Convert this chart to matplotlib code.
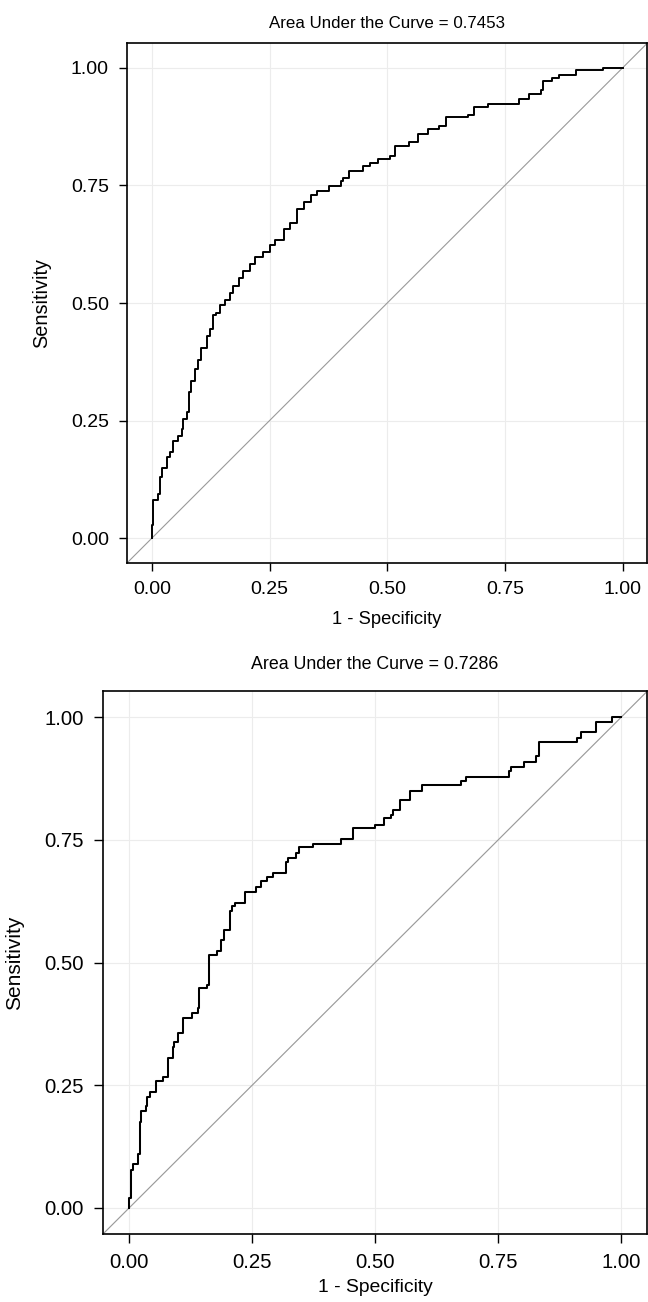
import numpy as np
import matplotlib
matplotlib.use("Agg")
import matplotlib.pyplot as plt

plt.rcParams['font.family'] = ['Liberation Sans', 'DejaVu Sans']

# ROC curve 1 (AUC = 0.7453): step corners, 1 - specificity vs sensitivity
fpr_1 = [0.0, 0.0, 0.002, 0.013, 0.017, 0.021, 0.031, 0.038, 0.045, 0.056,
         0.063, 0.066, 0.075, 0.079, 0.082, 0.091, 0.098, 0.105, 0.116, 0.123,
         0.130, 0.137, 0.145, 0.155, 0.166, 0.173, 0.184, 0.194, 0.209, 0.219,
         0.237, 0.251, 0.262, 0.280, 0.294, 0.308, 0.323, 0.337, 0.351, 0.376,
         0.401, 0.406, 0.419, 0.448, 0.463, 0.480, 0.505, 0.516, 0.547, 0.565,
         0.586, 0.611, 0.625, 0.671, 0.685, 0.714, 0.781, 0.802, 0.827, 0.832,
         0.851, 0.866, 0.901, 0.958, 1.0]
tpr_1 = [0.0, 0.027, 0.082, 0.093, 0.130, 0.150, 0.173, 0.184, 0.206, 0.217,
         0.232, 0.254, 0.269, 0.310, 0.335, 0.360, 0.378, 0.404, 0.430, 0.444,
         0.474, 0.478, 0.496, 0.507, 0.521, 0.536, 0.554, 0.569, 0.583, 0.598,
         0.609, 0.624, 0.635, 0.657, 0.671, 0.700, 0.715, 0.730, 0.739, 0.748,
         0.759, 0.766, 0.781, 0.792, 0.797, 0.806, 0.813, 0.833, 0.842, 0.860,
         0.870, 0.877, 0.895, 0.899, 0.917, 0.924, 0.934, 0.945, 0.952, 0.972,
         0.979, 0.986, 0.995, 1.0, 1.0]

# ROC curve 2 (AUC = 0.7286)
fpr_2 = [0.0, 0.0, 0.003, 0.008, 0.018, 0.022, 0.025, 0.034, 0.037, 0.042,
         0.054, 0.069, 0.080, 0.089, 0.091, 0.099, 0.110, 0.127, 0.139, 0.143,
         0.159, 0.162, 0.178, 0.187, 0.193, 0.204, 0.209, 0.215, 0.235, 0.258,
         0.268, 0.281, 0.293, 0.319, 0.323, 0.339, 0.345, 0.374, 0.431, 0.454,
         0.500, 0.517, 0.532, 0.537, 0.550, 0.571, 0.595, 0.674, 0.685, 0.771,
         0.775, 0.803, 0.826, 0.832, 0.910, 0.917, 0.949, 0.980, 1.0]
tpr_2 = [0.0, 0.020, 0.078, 0.089, 0.109, 0.176, 0.198, 0.208, 0.227, 0.237,
         0.258, 0.267, 0.306, 0.328, 0.339, 0.357, 0.386, 0.397, 0.408, 0.448,
         0.455, 0.516, 0.524, 0.545, 0.566, 0.604, 0.615, 0.622, 0.644, 0.653,
         0.666, 0.675, 0.683, 0.704, 0.713, 0.723, 0.735, 0.742, 0.752, 0.773,
         0.781, 0.794, 0.801, 0.811, 0.831, 0.849, 0.861, 0.870, 0.878, 0.891,
         0.899, 0.909, 0.920, 0.950, 0.958, 0.969, 0.989, 1.0, 1.0]

aucs = [0.7453, 0.7286]
ticks = [0.0, 0.25, 0.5, 0.75, 1.0]
tick_labels = ["0.00", "0.25", "0.50", "0.75", "1.00"]

fig = plt.figure(figsize=(6.48, 13.02), dpi=100)

# axes boxes in figure fractions (top panel, bottom panel)
boxes = [[127 / 648, 739 / 1302, 520 / 648, 520 / 1302],
         [103 / 648, 68 / 1302, 544 / 648, 543 / 1302]]
curves = [(fpr_1, tpr_1), (fpr_2, tpr_2)]
scales = [1.0, 1.05]
title_pads = [11, 16]
xlabel_pads = [9, 5]

for box, (fpr, tpr), auc, s, tp, xp in zip(boxes, curves, aucs, scales,
                                           title_pads, xlabel_pads):
    ax = fig.add_axes(box)
    ax.set_xlim(-0.053, 1.052)
    ax.set_ylim(-0.053, 1.053)

    # light grid
    for t in ticks:
        ax.axvline(t, color="#ececec", lw=0.8, zorder=0)
        ax.axhline(t, color="#ececec", lw=0.8, zorder=0)

    # reference diagonal and the ROC staircase
    ax.axline((0, 0), (1, 1), color="#9a9a9a", lw=0.8 * s, zorder=1)
    ax.step(fpr, tpr, where="post", color="black", lw=1.4 * s, zorder=2)

    ax.set_xticks(ticks)
    ax.set_yticks(ticks)
    ax.set_xticklabels(tick_labels)
    ax.set_yticklabels(tick_labels)
    ax.tick_params(direction="out", length=6 * s, width=1.0, pad=7 * s,
                   labelsize=14 * s)
    for sp in ax.spines.values():
        sp.set_linewidth(1.2)

    ax.set_title("Area Under the Curve = %.4f" % auc, fontsize=12.2 * s, pad=tp)
    ax.set_xlabel("1 - Specificity", fontsize=13.2 * s, labelpad=xp)
    ax.set_ylabel("Sensitivity", fontsize=14.3 * s, labelpad=14 * s)

fig.savefig("out.png", dpi=100)
